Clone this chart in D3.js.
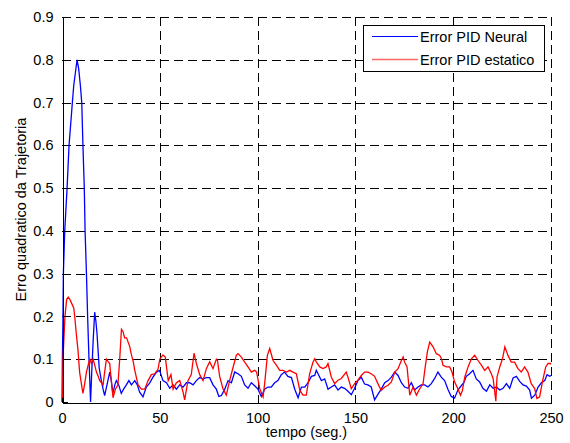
<!DOCTYPE html>
<html>
<head>
<meta charset="utf-8">
<script src="https://cdn.jsdelivr.net/npm/d3@7"></script>
<style>
	body { margin: 0; background: #fff; }
	svg { font-family: Arial, "Liberation Sans", sans-serif; }
</style>
</head>
<body>
<div id="plot"></div>
<script>
// dados

var tempoNeural = [0, 0.2, 0.5, 0.7, 1.4, 2.6, 3.6, 5.3, 6.0, 7.7, 8.5, 9.4, 10.1, 10.7, 11.4, 11.8, 12.5, 13.1, 13.8, 14.6, 15.2,
	15.9, 16.7, 17.3, 17.9, 19.0, 20.1, 21.0, 21.8, 23.0, 24.4, 25.2, 26.0, 27.0, 27.8, 29.0, 30.3, 31.5, 32.9, 34.2, 35.5,
	37.2, 38.5, 39.7, 41.4, 43.1, 44.8, 46.5, 48.3, 49.9, 51.6, 53.4, 55.1, 56.8, 58.5, 60.2, 61.9, 63.6, 65.3, 67.0, 68.7,
	70.4, 72.1, 73.8, 75.5, 77.2, 78.9, 80.2, 81.5, 83.2, 84.9, 86.6, 88.3, 90.0, 91.7, 93.4, 95.1, 96.8, 98.5, 100.2, 101.9,
	103.6, 105.3, 107.0, 108.7, 110.4, 112.1, 113.8, 115.5, 117.3, 119.0, 120.7, 122.4, 124.1, 125.8, 127.5, 129.2, 130.0, 130.9, 132.6, 134.3,
	136.0, 137.7, 139.4, 141.1, 142.8, 144.5, 146.2, 147.9, 149.6, 151.3, 153.0, 154.7, 156.4, 158.1, 159.8, 161.5, 163.2, 165.0, 166.7, 168.4,
	170.1, 171.8, 173.5, 175.2, 176.9, 178.6, 180.3, 182.0, 183.7, 185.4, 187.1, 188.8, 190.5, 192.2, 193.9, 195.6, 197.3, 199.0, 200.7, 202.4,
	204.1, 205.4, 206.7, 208.4, 210.1, 211.8, 213.5, 215.2, 217.0, 218.7, 220.4, 222.1, 223.8, 225.5, 227.2, 228.9, 230.6, 232.3, 234.0, 235.7,
	237.4, 239.1, 240.0, 241.7, 243.4, 245.1, 246.8, 248.0, 249.3, 250.0];

var erroNeural = [0.0, 0.1, 0.2, 0.3, 0.4, 0.5, 0.6, 0.7, 0.74, 0.80, 0.78, 0.74, 0.7, 0.6, 0.5, 0.4, 0.3, 0.2, 0.1, 0.0, 0.07,
	0.14, 0.21, 0.19, 0.16, 0.08, 0.05, 0.03, 0.015, 0.04, 0.07, 0.05, 0.02, 0.04, 0.05, 0.04, 0.02, 0.03, 0.04, 0.05, 0.04,
	0.05, 0.04, 0.023, 0.012, 0.035, 0.044, 0.058, 0.07, 0.074, 0.05, 0.045, 0.032, 0.04, 0.03, 0.04, 0.035, 0.045, 0.045, 0.04, 0.05,
	0.057, 0.054, 0.057, 0.057, 0.04, 0.03, 0.013, 0.015, 0.03, 0.05, 0.045, 0.07, 0.066, 0.06, 0.04, 0.032, 0.045, 0.038, 0.03, 0.013,
	0.03, 0.035, 0.035, 0.045, 0.05, 0.064, 0.07, 0.06, 0.057, 0.03, 0.01, 0.035, 0.035, 0.045, 0.06, 0.062, 0.074, 0.066, 0.05, 0.054,
	0.03, 0.035, 0.04, 0.028, 0.035, 0.032, 0.025, 0.017, 0.032, 0.05, 0.058, 0.042, 0.04, 0.035, 0.005, 0.018, 0.03, 0.045, 0.05, 0.058,
	0.07, 0.062, 0.045, 0.035, 0.032, 0.045, 0.028, 0.035, 0.04, 0.04, 0.035, 0.043, 0.055, 0.07, 0.058, 0.05, 0.03, 0.013, 0.009, 0.028,
	0.038, 0.045, 0.06, 0.066, 0.074, 0.054, 0.047, 0.032, 0.025, 0.04, 0.032, 0.035, 0.028, 0.032, 0.043, 0.032, 0.056, 0.06, 0.048, 0.04,
	0.037, 0.028, 0.009, 0.016, 0.035, 0.045, 0.05, 0.064, 0.06, 0.062];

var tempoEstatico = [0, 0.3, 0.5, 1.0, 1.5, 2.4, 3.2, 4.0, 5.0, 6.0, 6.5, 7.3, 8.2, 9.0, 10.0, 10.7, 11.5, 12.5, 13.3, 14.2,
	15.0, 15.9, 16.8, 17.6, 18.5, 19.3, 20.2, 21.0, 21.8, 22.7, 23.5, 24.4, 25.2, 26.1, 27.3, 28.6, 29.5, 30.4, 31.2, 32.0,
	33.0, 33.8, 34.6, 35.5, 36.4, 37.2, 38.9, 40.6, 42.3, 44.0, 45.7, 47.4, 49.1, 50.0, 51.6, 52.8, 54.3, 55.7, 56.8, 58.5,
	60.2, 61.9, 62.7, 64.4, 66.1, 67.5, 68.7, 70.4, 72.1, 73.8, 75.5, 77.2, 78.9, 79.5, 80.6, 82.3, 84.0, 85.7, 87.4, 89.1,
	90.0, 91.7, 93.4, 95.1, 96.8, 98.5, 99.5, 101.1, 102.8, 103.6, 105.0, 106.2, 107.9, 109.6, 111.3, 113.0, 114.7, 116.4, 118.1, 119.8,
	121.6, 123.2, 124.9, 126.6, 128.3, 129.2, 130.1, 131.8, 133.4, 135.1, 136.0, 137.7, 139.4, 141.1, 142.8, 145.3, 146.2, 147.9, 149.6, 151.3,
	153.0, 154.7, 156.4, 158.1, 159.8, 161.5, 163.2, 165.0, 166.7, 168.4, 170.1, 171.8, 173.5, 174.4, 175.2, 176.4, 177.8, 179.5, 181.2, 182.9,
	184.6, 185.7, 186.8, 188.0, 189.7, 191.4, 193.1, 194.0, 194.8, 196.5, 198.2, 199.4, 200.7, 202.4, 203.7, 204.7, 205.9, 207.6, 209.3, 211.0,
	212.7, 214.4, 216.1, 217.8, 219.5, 220.4, 221.8, 222.4, 223.8, 225.2, 226.4, 228.0, 229.7, 231.4, 233.1, 234.8, 236.5, 238.2, 239.9, 241.7,
	242.8, 244.2, 245.6, 247.3, 248.5, 249.7, 250.0];

var erroEstatico = [0.0, 0.0, 0.1, 0.15, 0.2, 0.24, 0.245, 0.24, 0.23, 0.22, 0.2, 0.16, 0.12, 0.07, 0.04, 0.02, 0.04, 0.07, 0.085, 0.1,
	0.09, 0.1, 0.085, 0.07, 0.06, 0.05, 0.045, 0.04, 0.07, 0.1, 0.095, 0.09, 0.05, 0.01, 0.03, 0.04, 0.1, 0.17, 0.165, 0.15,
	0.15, 0.14, 0.13, 0.11, 0.095, 0.074, 0.04, 0.03, 0.03, 0.05, 0.064, 0.066, 0.077, 0.1, 0.11, 0.105, 0.05, 0.064, 0.03, 0.045,
	0.05, 0.023, 0.005, 0.05, 0.064, 0.114, 0.09, 0.064, 0.05, 0.078, 0.094, 0.078, 0.1, 0.097, 0.06, 0.031, 0.016, 0.05, 0.08, 0.109,
	0.113, 0.105, 0.093, 0.082, 0.07, 0.074, 0.07, 0.031, 0.012, 0.043, 0.109, 0.125, 0.097, 0.086, 0.074, 0.074, 0.07, 0.074, 0.07, 0.066,
	0.027, 0.016, 0.016, 0.066, 0.093, 0.101, 0.093, 0.082, 0.078, 0.082, 0.09, 0.058, 0.043, 0.051, 0.055, 0.07, 0.058, 0.031, 0.043, 0.051,
	0.062, 0.07, 0.07, 0.066, 0.06, 0.043, 0.027, 0.035, 0.039, 0.047, 0.07, 0.078, 0.097, 0.105, 0.093, 0.082, 0.016, 0.035, 0.016, 0.031,
	0.043, 0.082, 0.117, 0.14, 0.129, 0.113, 0.109, 0.101, 0.086, 0.082, 0.082, 0.07, 0.047, 0.031, 0.016, 0.027, 0.058, 0.082, 0.101, 0.109,
	0.097, 0.086, 0.074, 0.082, 0.066, 0.055, 0.002, 0.058, 0.082, 0.101, 0.129, 0.109, 0.093, 0.093, 0.078, 0.07, 0.082, 0.07, 0.043, 0.031,
	0.008, 0.012, 0.047, 0.082, 0.09, 0.09, 0.088];

var xTicks = [0, 50, 100, 150, 200, 250];
var yTicks = [0, 0.1, 0.2, 0.3, 0.4, 0.5, 0.6, 0.7, 0.8, 0.9];
var legendas = ["Error PID Neural", "Error PID estatico"];
var cores = ["#0000ff", "#ff0000"];

var width = 570, height = 443;
var margin = { top: 17, right: 19, bottom: 41, left: 62 };

var svg = d3.select("#plot")
	.append("svg")
	.attr("width", width)
	.attr("height", height);

svg.append("rect")
	.attr("width", width)
	.attr("height", height)
	.attr("fill", "#fff");

var xScale = d3.scaleLinear()
	.domain([0, 250])
	.range([margin.left, width - margin.right]);

var yScale = d3.scaleLinear()
	.domain([0, 0.9])
	.range([height - margin.bottom, margin.top]);

//grade tracejada
var grade = svg.append("g")
	.attr("stroke", "#000")
	.attr("stroke-width", 1)
	.attr("stroke-dasharray", "9,5")
	.attr("shape-rendering", "crispEdges");

grade.selectAll(".gy")
	.data(yTicks.slice(1))
	.enter().append("line")
	.attr("x1", xScale(0))
	.attr("x2", xScale(250))
	.attr("y1", function (d) { return Math.round(yScale(d)) + 0.5; })
	.attr("y2", function (d) { return Math.round(yScale(d)) + 0.5; });

grade.selectAll(".gx")
	.data(xTicks.slice(1))
	.enter().append("line")
	.attr("y1", yScale(0.9))
	.attr("y2", yScale(0))
	.attr("x1", function (d) { return Math.round(xScale(d)) + 0.5; })
	.attr("x2", function (d) { return Math.round(xScale(d)) + 0.5; });

//linhas das series
var line = d3.line()
	.x(function (d) { return xScale(d[0]); })
	.y(function (d) { return yScale(d[1]); });

var serieNeural = d3.zip(tempoNeural, erroNeural);
var serieEstatico = d3.zip(tempoEstatico, erroEstatico);

svg.append("path")
	.datum(serieNeural)
	.attr("fill", "none")
	.attr("stroke", cores[0])
	.attr("stroke-width", 1.3)
	.attr("d", line);

svg.append("path")
	.datum(serieEstatico)
	.attr("fill", "none")
	.attr("stroke", cores[1])
	.attr("stroke-width", 1.3)
	.attr("d", line);

//eixos
var xAxis = svg.append("g")
	.attr("transform", "translate(0," + (Math.round(yScale(0)) + 0.5) + ")")
	.call(d3.axisBottom(xScale).tickValues(xTicks).tickSizeInner(-5).tickSizeOuter(0).tickPadding(10));

var yAxis = svg.append("g")
	.attr("transform", "translate(" + (Math.round(xScale(0)) + 0.5) + ",0)")
	.call(d3.axisLeft(yScale).tickValues(yTicks).tickFormat(d3.format("")).tickSizeInner(-5).tickSizeOuter(0).tickPadding(9));

[xAxis, yAxis].forEach(function (a) {
	a.selectAll("text").attr("font-size", "14.5px").attr("fill", "#000").attr("font-family", "Arial, 'Liberation Sans', sans-serif");
	a.selectAll("line, path").attr("stroke", "#000").attr("shape-rendering", "crispEdges");
});

//titulos dos eixos
svg.append("text")
	.attr("x", (xScale(0) + xScale(250)) / 2)
	.attr("y", 437)
	.attr("text-anchor", "middle")
	.attr("font-size", "14.5px")
	.text("tempo (seg.)");

svg.append("text")
	.attr("transform", "translate(26," + ((yScale(0) + yScale(0.9)) / 2) + ") rotate(-90)")
	.attr("text-anchor", "middle")
	.attr("font-size", "14.5px")
	.text("Erro quadratico da Trajetoria");

//legenda
var legend = svg.append("g")
	.attr("transform", "translate(363,25)");

legend.append("rect")
	.attr("width", 181)
	.attr("height", 46)
	.attr("fill", "#fff")
	.attr("stroke", "#000")
	.attr("shape-rendering", "crispEdges");

var itens = legend.selectAll(".item")
	.data(legendas)
	.enter().append("g")
	.attr("transform", function (d, i) { return "translate(0," + (11.5 + i * 23) + ")"; });

itens.append("line")
	.attr("x1", 9)
	.attr("x2", 55)
	.attr("stroke", function (d, i) { return cores[i]; })
	.attr("stroke-width", function (d, i) { return i == 0 ? 1 : 1.6; })
	.attr("stroke-opacity", function (d, i) { return i == 0 ? 1 : 0.6; });

itens.append("text")
	.attr("x", 57)
	.attr("y", 5.5)
	.attr("font-size", "14.5px")
	.text(function (d) { return d; });
</script>
</body>
</html>
